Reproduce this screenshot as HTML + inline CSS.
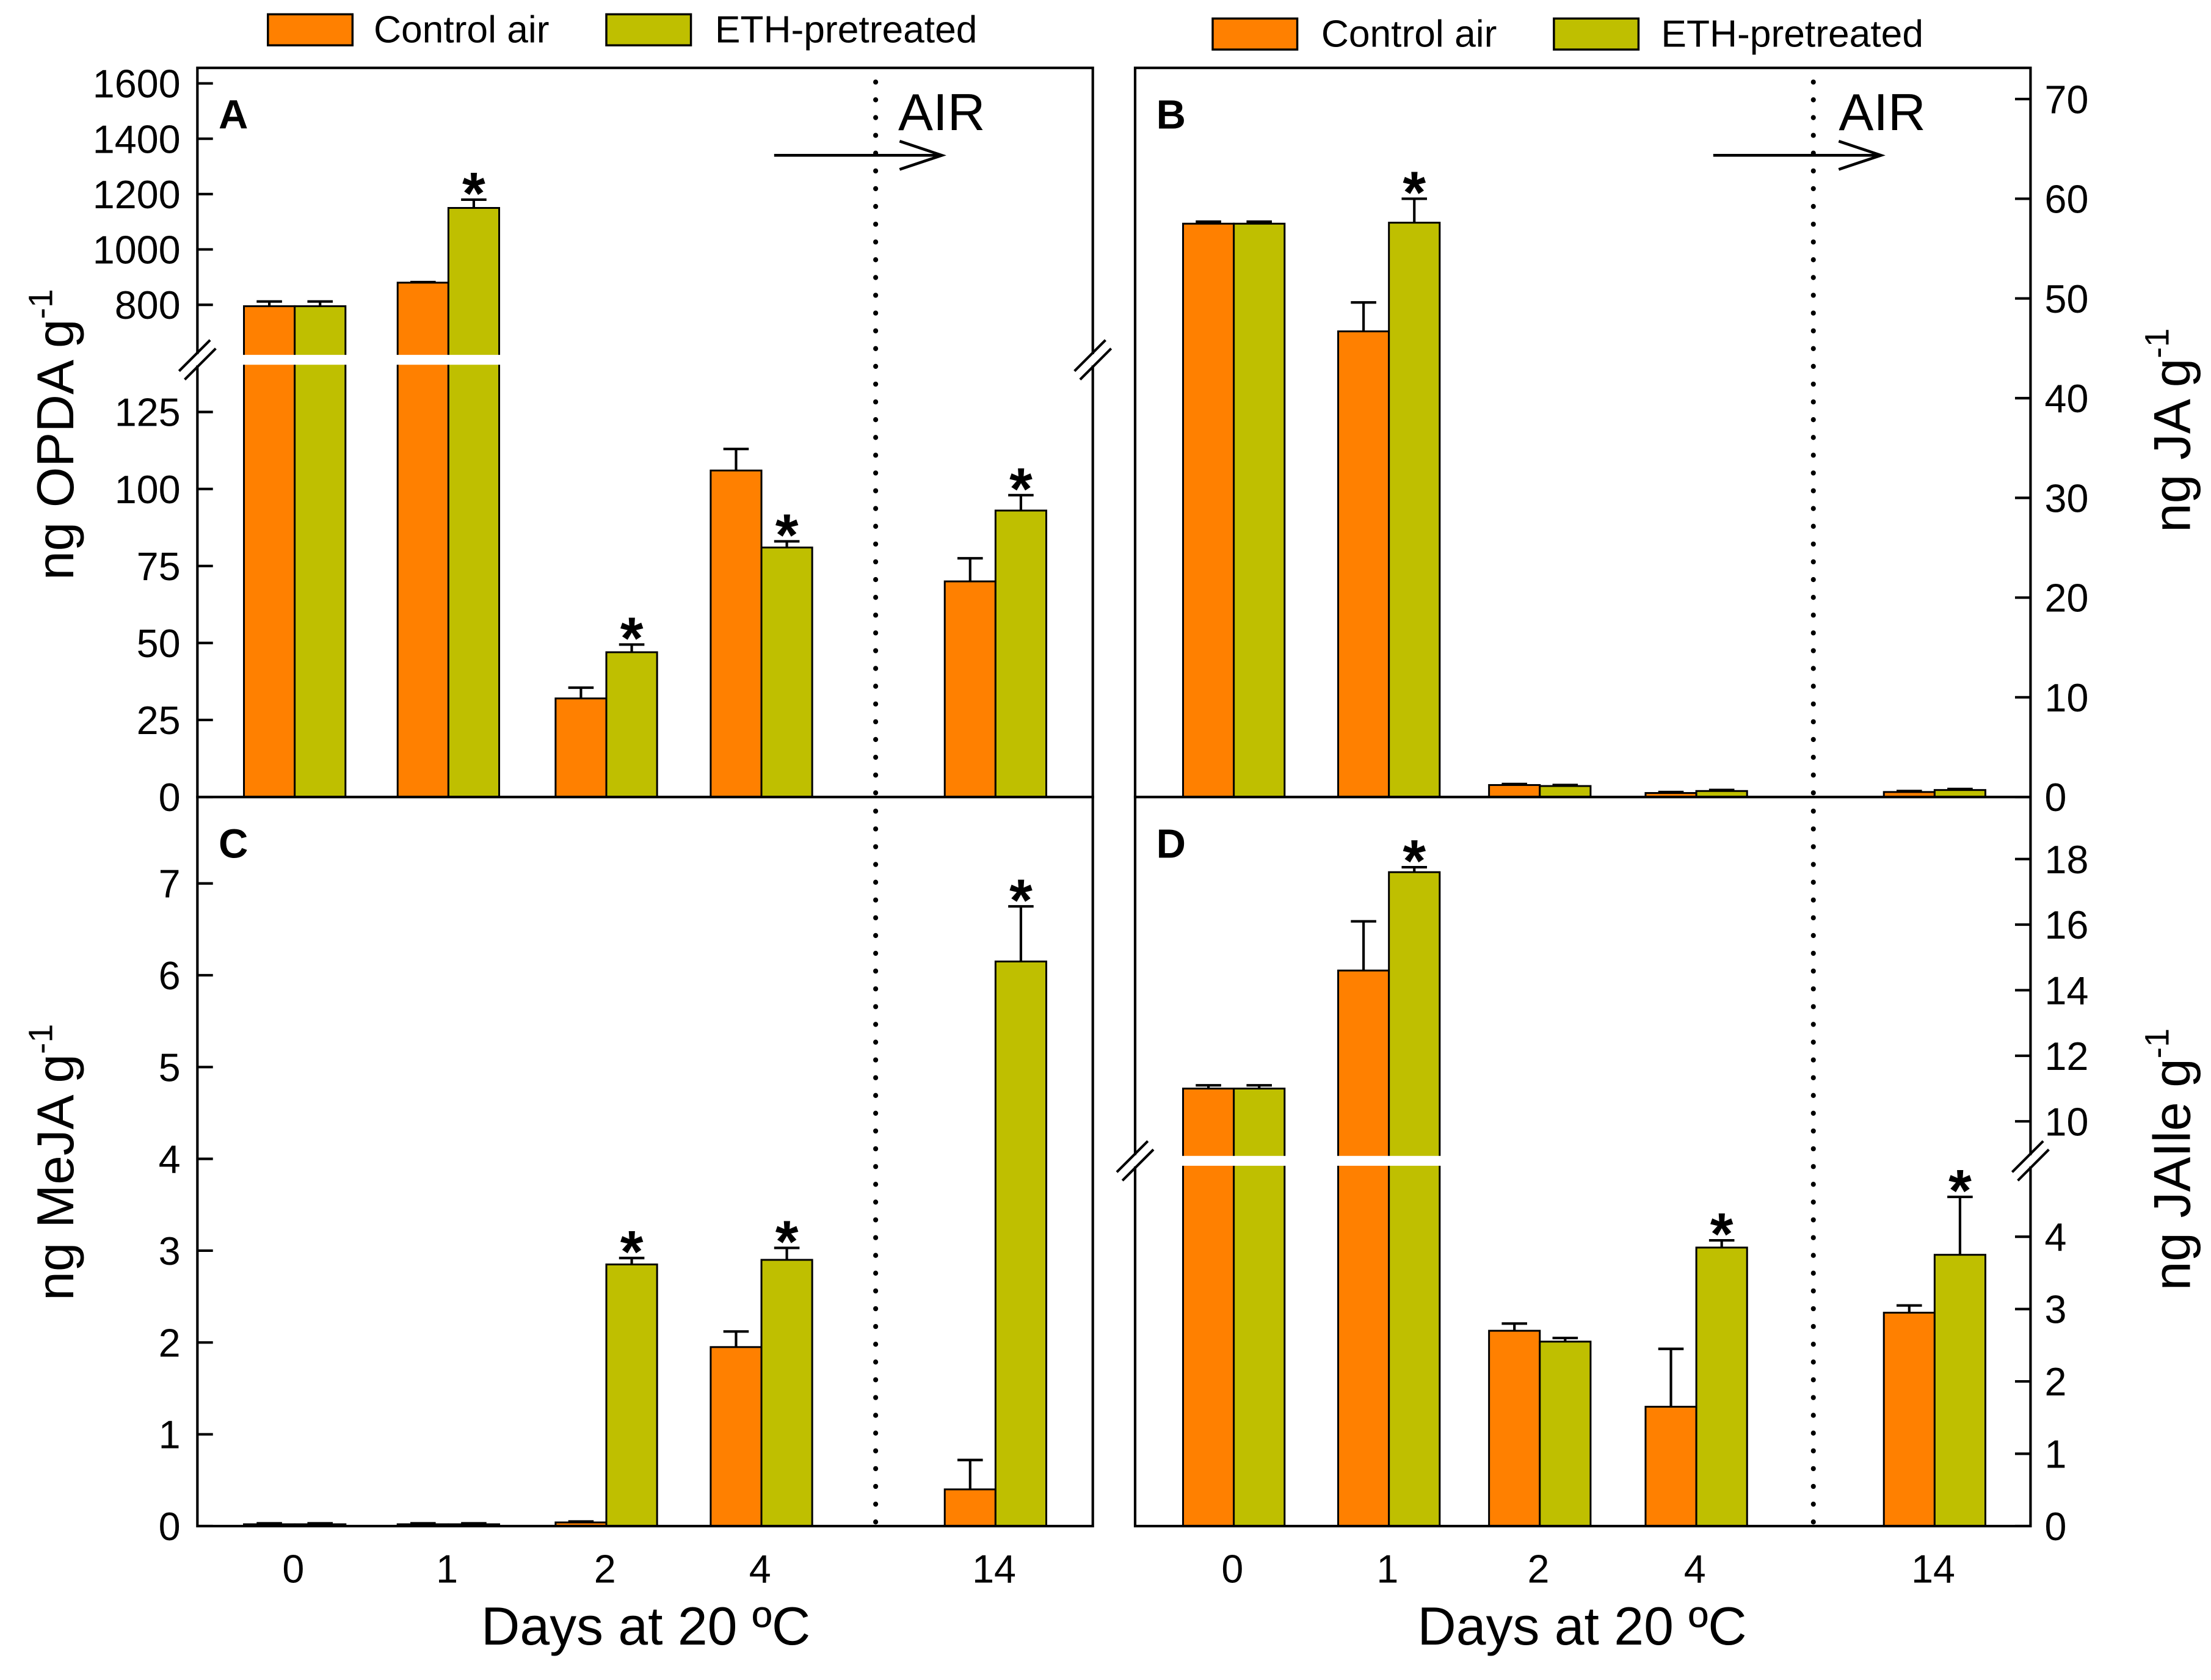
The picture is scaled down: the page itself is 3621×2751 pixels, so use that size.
<!DOCTYPE html>
<html><head><meta charset="utf-8"><style>
html,body{margin:0;padding:0;background:#fff}
svg{display:block}
text{font-family:"Liberation Sans",Arial,sans-serif;fill:#000}
</style></head><body>
<svg id="chart" width="3621" height="2751" viewBox="0 0 1568 1191" xmlns="http://www.w3.org/2000/svg">
<g id="root"></g>
</svg>
<script>
const days = ["0","1","2","4","14"];
const opdaControl = [795, 880, 32, 106, 70];
const opdaControlErr = [812, 882, 35.5, 113, 77.5];
const opdaEth = [795, 1150, 47, 81, 93];
const opdaEthErr = [812, 1180, 49.5, 83, 98];
const opdaStar = [false, true, true, true, true];
const jaControl = [57.5, 46.7, 1.2, 0.4, 0.5];
const jaControlErr = [57.7, 49.6, 1.3, 0.5, 0.6];
const jaEth = [57.5, 57.6, 1.1, 0.6, 0.7];
const jaEthErr = [57.7, 60, 1.2, 0.7, 0.8];
const jaStar = [false, true, false, false, false];
const mejaControl = [0.02, 0.02, 0.04, 1.95, 0.4];
const mejaControlErr = [0.03, 0.03, 0.05, 2.12, 0.72];
const mejaEth = [0.02, 0.02, 2.85, 2.9, 6.15];
const mejaEthErr = [0.03, 0.03, 2.92, 3.03, 6.75];
const mejaStar = [false, false, true, true, true];
const jaileControl = [11, 14.6, 2.7, 1.65, 2.95];
const jaileControlErr = [11.1, 16.1, 2.8, 2.45, 3.05];
const jaileEth = [11, 17.6, 2.55, 3.85, 3.75];
const jaileEthErr = [11.1, 17.75, 2.6, 3.95, 4.55];
const jaileStar = [false, true, false, true, true];
const opdaTicksLow = [0, 25, 50, 75, 100, 125];
const opdaTicksHigh = [800, 1000, 1200, 1400, 1600];
const jaTicks = [0, 10, 20, 30, 40, 50, 60, 70];
const mejaTicks = [0, 1, 2, 3, 4, 5, 6, 7];
const jaileTicksLow = [0, 1, 2, 3, 4];
const jaileTicksHigh = [10, 12, 14, 16, 18];

const NS = "http://www.w3.org/2000/svg";
const root = document.getElementById('root');
function mk(tag, attrs, parent, txt) {
  const e = document.createElementNS(NS, tag);
  for (const k in attrs) e.setAttribute(k, attrs[k]);
  if (txt !== undefined) e.textContent = txt;
  (parent || root).appendChild(e);
  return e;
}
const ORANGE = "#FF8000", GREEN = "#BFBF00";
const xsLeft = [209, 318, 430, 540, 706];
const xsRight = [875, 985, 1092, 1203, 1372];
const BW = 36;

function panel(opt) {
  const g = mk('g', {});
  
  
  const y = opt.y;
  for (let i = 0; i < days.length; i++) {
    const cx = opt.xs[i];
    const series = [[opt.c, opt.ce, ORANGE, cx - BW, 'control'], [opt.e, opt.ee, GREEN, cx, 'eth']];
    series.forEach(s => {
      const v = s[0][i], top = y(v);
      const r = mk('rect', {x: s[3], y: top, width: BW, height: opt.y0 - top, fill: s[2], stroke: '#000', 'stroke-width': 1.3}, g);
      
      
      const et = y(s[1][i]), mx = s[3] + BW / 2;
      const el = mk('path', {d: `M${mx},${top}V${et}M${mx - 9},${et}H${mx + 9}`, stroke: '#000', 'stroke-width': 1.8, fill: 'none'}, g);
      
      
    });
    if (opt.star[i]) {
      const st = mk('text', {x: cx + BW / 2, y: y(opt.ee[i]) + 10, 'text-anchor': 'middle', 'font-size': 42, 'font-weight': 'bold'}, g, '*');
      
      
    }
  }
  if (opt.brk) {
    for (let i = 0; i < 2; i++) {
      const w = mk('rect', {x: opt.xs[i] - BW - 1, y: opt.brk - 3.5, width: 2 * BW + 2, height: 7, fill: '#fff'}, g);
      
      
    }
  }
  const f = mk('rect', {x: opt.x0, y: opt.yt, width: 635, height: opt.y0 - opt.yt, fill: 'none', stroke: '#000', 'stroke-width': 1.8}, g);
  
  
  const dl = mk('line', {x1: opt.dx, x2: opt.dx, y1: opt.yt + 10, y2: opt.y0, stroke: '#000', 'stroke-width': 3.5, 'stroke-dasharray': '0.1 12.5', 'stroke-linecap': 'round'}, g);
  
  
  const ax = opt.right ? opt.x0 + 635 : opt.x0;
  const dir = opt.right ? -1 : 1;
  opt.ticks.forEach(t => {
    const ty = y(t);
    const tk = mk('line', {x1: ax, x2: ax + dir * 11, y1: ty, y2: ty, stroke: '#000', 'stroke-width': 1.8}, g);
    
    
    const lb = mk('text', {x: opt.right ? ax + 10 : ax - 12, y: ty + 10, 'text-anchor': opt.right ? 'start' : 'end', 'font-size': 28}, g, String(t));
    
    
  });
  const L = mk('text', {x: opt.x0 + 15, y: opt.yt + 43, 'font-size': 29, 'font-weight': 'bold'}, g, opt.letter);
  
  
  return g;
}

const yAlow = v => 565 - v * 2.184;
const yAhigh = v => 216 - (v - 800) * 0.19625;
const yA = v => v <= 142 ? yAlow(v) : yAhigh(v);
panel({name: 'panel-a-opda', xs: xsLeft, x0: 140, yt: 48, y0: 565, y: yA, c: opdaControl, ce: opdaControlErr, e: opdaEth, ee: opdaEthErr, star: opdaStar, brk: 255, dx: 621, ticks: opdaTicksLow.concat(opdaTicksHigh), letter: 'A'});
const yB = v => 565 - v * 7.07;
panel({name: 'panel-b-ja', xs: xsRight, x0: 805, yt: 48, y0: 565, y: yB, c: jaControl, ce: jaControlErr, e: jaEth, ee: jaEthErr, star: jaStar, dx: 1286, ticks: jaTicks, right: true, letter: 'B'});
const yC = v => 1082 - v * 65.1;
panel({name: 'panel-c-meja', xs: xsLeft, x0: 140, yt: 565, y0: 1082, y: yC, c: mejaControl, ce: mejaControlErr, e: mejaEth, ee: mejaEthErr, star: mejaStar, dx: 621, ticks: mejaTicks, letter: 'C'});
const yDlow = v => 1082 - v * 51.3;
const yDhigh = v => 795 - (v - 10) * 23.25;
const yD = v => v <= 5 ? yDlow(v) : yDhigh(v);
panel({name: 'panel-d-jaile', xs: xsRight, x0: 805, yt: 565, y0: 1082, y: yD, c: jaileControl, ce: jaileControlErr, e: jaileEth, ee: jaileEthErr, star: jaileStar, brk: 823, dx: 1286, ticks: jaileTicksLow.concat(jaileTicksHigh), right: true, letter: 'D'});

[[140, 255], [775, 255], [805, 823], [1440, 823]].forEach(p => {
  const w = mk('rect', {x: p[0] - 3, y: p[1] - 4, width: 6, height: 8, fill: '#fff'});
  
  
  const b = mk('path', {d: `M${p[0] - 13},${p[1] + 8}L${p[0] + 9},${p[1] - 14}M${p[0] - 9},${p[1] + 14}L${p[0] + 13},${p[1] - 8}`, stroke: '#000', 'stroke-width': 1.8, fill: 'none'});
  
  
});

[[xsLeft, 458], [xsRight, 1122]].forEach(s => {
  s[0].forEach((x, i) => {
    const t = mk('text', {x: x - 1, y: 1122, 'text-anchor': 'middle', 'font-size': 28}, root, days[i]);
    
    
  });
  const xt = mk('text', {x: s[1], y: 1166, 'text-anchor': 'middle', 'font-size': 38}, root, 'Days at 20 ºC');
  
  
});

[[549, 637], [1215, 1304]].forEach(a => {
  const e = a[0] + 119, h = a[0] + 89;
  const ar = mk('path', {d: `M${a[0]},110H${e}M${h},100L${e},110L${h},120`, stroke: '#000', 'stroke-width': 2, fill: 'none'});
  
  
  const t = mk('text', {x: a[1], y: 92, 'font-size': 37}, root, 'AIR');
  
  
});

[[190, 265, 430, 507, 10], [860, 937, 1102, 1178, 13]].forEach(l => {
  const g = mk('g', {});
  
  
  const r1 = mk('rect', {x: l[0], y: l[4], width: 60, height: 22, fill: ORANGE, stroke: '#000', 'stroke-width': 1.5}, g);
  
  
  const t1 = mk('text', {x: l[1], y: l[4] + 20, 'font-size': 27}, g, 'Control air');
  
  
  const r2 = mk('rect', {x: l[2], y: l[4], width: 60, height: 22, fill: GREEN, stroke: '#000', 'stroke-width': 1.5}, g);
  
  
  const t2 = mk('text', {x: l[3], y: l[4] + 20, 'font-size': 27}, g, 'ETH-pretreated');
  
  
});

function ytitle(name, x, y, base) {
  const t = mk('text', {transform: `translate(${x},${y}) rotate(-90)`, 'text-anchor': 'middle', 'font-size': 37});
  
  
  mk('tspan', {}, t, base + ' g');
  mk('tspan', {dy: -15, 'font-size': 24}, t, '-1');
}
ytitle('y-axis-title-opda', 52, 308, 'ng OPDA');
ytitle('y-axis-title-meja', 52, 824, 'ng MeJA');
ytitle('y-axis-title-ja', 1553, 305, 'ng JA');
ytitle('y-axis-title-jaile', 1553, 822, 'ng JAIle');
</script>
</body></html>
